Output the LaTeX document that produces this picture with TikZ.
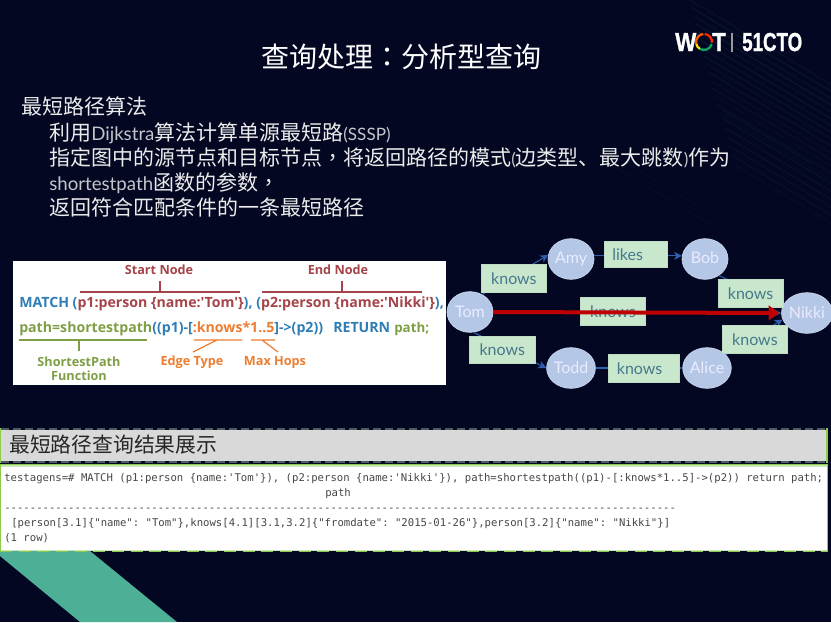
\documentclass[tikz,border=0pt]{standalone}
\usepackage{fontspec}
\usetikzlibrary{shapes.geometric,arrows.meta}
\setmainfont{Lato}
\newfontfamily\cjk{Noto Sans CJK SC}
\newfontfamily\cjkc{Noto Sans CJK TC}
\newfontfamily\lat{Lato}
\newfontfamily\opn{Open Sans}
\newfontfamily\mono{DejaVu Sans Mono}
\newfontfamily\logo[FakeBold=1.2]{Liberation Sans Bold}
\definecolor{bgnavy}{HTML}{030722}
\definecolor{streak}{HTML}{2F8F8A}
\definecolor{cblue}{HTML}{2E7DB5}
\definecolor{cred}{HTML}{A5444A}
\definecolor{cgreen}{HTML}{7F9F45}
\definecolor{corange}{HTML}{ED7D31}
\definecolor{panelgreen}{HTML}{8FCB4A}
\definecolor{paneldash}{HTML}{4A5C60}
\definecolor{palegreen}{HTML}{C8E6B8}
\definecolor{edgeblue}{HTML}{2F5FB0}
\definecolor{nodefill}{HTML}{B4C7E7}
\definecolor{relfill}{HTML}{C9E7CC}
\definecolor{reldraw}{HTML}{BEDCC3}
\definecolor{reltext}{HTML}{46788C}
\definecolor{tealband}{HTML}{4CAF96}
\definecolor{arrowred}{HTML}{C00000}
\definecolor{panelgray}{HTML}{D9D9D9}
\definecolor{latgray}{HTML}{C4C6CC}
\tikzset{
 x=0.75pt,y=-0.75pt,
 person/.style={ellipse,draw=white!75!edgeblue,line width=.5pt,fill=nodefill,minimum width=34.5pt,minimum height=30.5pt,inner sep=0pt,text=white!92!blue,font=\lat\fontsize{12}{14}\selectfont},
 rel/.style={draw=reldraw,line width=.4pt,fill=relfill,anchor=north west,inner sep=0pt,text=reltext,font=\lat\fontsize{12}{14}\selectfont},
 flow/.style={draw=edgeblue,line width=.8pt,-{Stealth[length=6pt,width=6pt]}},
 body/.style={anchor=base west,inner sep=0pt,text=white!92!black,font=\cjk\fontsize{15.75}{18}\selectfont},
 code/.style={anchor=base west,inner sep=0pt,font=\opn\bfseries\fontsize{10.6}{13}\selectfont},
 tag/.style={inner sep=0pt,align=center,font=\opn\bfseries\fontsize{9.5}{10.5}\selectfont},
 term/.style={anchor=base west,inner sep=0pt,text=black!72,font=\mono\fontsize{7.97}{10}\selectfont\frenchspacing},
 logotext/.style={anchor=base west,inner sep=0pt,text=white,font=\logo\fontsize{19.5}{20}\selectfont,transform shape},
 band/.style={streak,line width=.7pt},
}
\newcommand{\latw}[1]{{\lat\fontsize{14}{18}\selectfont\color{latgray}#1}}
\newcommand{\lats}[1]{{\lat\fontsize{12.8}{18}\selectfont\color{latgray}#1}}
\begin{document}
\begin{tikzpicture}
\useasboundingbox (0,0) rectangle (831,622);
\fill[bgnavy] (0,0) rectangle (831,622);
% faint streaks
\begin{scope}
\clip (0,0) rectangle (831,622);
\foreach \s/\o/\l in {0/.10/150,5/.13/170,10/.10/190,15/.14/210,20/.10/160,25/.12/200,30/.09/180,35/.12/220,40/.08/170,45/.10/200,50/.07/150,55/.09/190,60/.06/160,65/.08/180,70/.05/150}{
  \draw[band,opacity=\o] (690+\s*.4,\s*1.6) -- ++(\l,\l*.6);
}
\foreach \s/\o/\l in {0/.08/90,6/.10/120,12/.09/140,18/.10/150,24/.08/130,30/.09/110,36/.06/100}{
  \draw[band,opacity=\o] (722+\s*.3,110+\s*1.5) -- ++(\l,\l*.6);
}
\foreach \s/\o/\l in {0/.04/90,8/.05/120,16/.05/130,24/.04/110,32/.03/100}{
  \draw[band,opacity=\o] (590+\s*.2,130+\s*1.5) -- ++(\l,\l*.6);
}
\end{scope}
\fill[tealband] (0,556) -- (0,551) -- (90,551) -- (177,622) -- (80,622) -- cycle;

% title and text
\node[anchor=base,inner sep=0pt,text=white,font=\cjk\fontsize{21}{24}\selectfont] (title) at (401,67) {查询处理{\cjkc ：}分析型查询};
\node[body] (t0) at (21,114) {最短路径算法};
\node[body] (t1) at (49,140) {利用\latw{Dijkstra}算法计算单源最短路\lats{(SSSP)}};
\node[body] (t2) at (49,165) {指定图中的源节点和目标节点{\cjkc ，}将返回路径的模式\lats{(}边类型、最大跳数\lats{)}作为};
\node[body] (t3) at (49,190) {\latw{shortestpath}函数的参数{\cjkc ，}};
\node[body] (t4) at (49,215) {返回符合匹配条件的一条最短路径};

% logo
\node[logotext,xscale=.86] (lw) at (675,51) {W};
\draw[line width=1.7pt,orange!70!red] ([shift={(704,42)}] 195:6pt) arc (195:95:6pt);
\draw[line width=1.7pt,red!70!orange] ([shift={(704,42)}] 85:6pt) arc (85:-5:6pt);
\draw[line width=1.7pt,yellow!85!orange] ([shift={(704,42)}] 240:6pt) arc (240:195:6pt);
\draw[line width=1.7pt,teal!70!green] ([shift={(704,42)}] -15:6pt) arc (-15:-120:6pt);
\node[logotext,xscale=.86] (lt) at (712,51) {T};
\draw[white!60!black,line width=.8pt] (732,33) -- (732,52);
\node[logotext,xscale=.72] (lc) at (742,51) {51CTO};

% code card
\fill[white] (13,261) rectangle (446,385);
\node[tag,text=cred] (st) at (159,270) {Start Node};
\node[tag,text=cred] (en) at (338,270) {End Node};
\draw[cred,line width=.9pt] (80,292) -- (240,292) (160,281) -- (160,292);
\draw[cred,line width=.9pt] (262,292) -- (422,292) (342,281) -- (342,292);
\node[code,text=cblue] (m1) at (19,307) {MATCH (\textcolor{cred}{p1:person \{name:'Tom'\}}), (\textcolor{cred}{p2:person \{name:'Nikki'\}}),};
\node[code,text=cblue] (m2) at (19,332) {\textcolor{cgreen}{path=shortestpath}((p1)-[\textcolor{corange}{:knows*1..5}]->(p2))};
\node[code,text=cblue] (m3) at (333,332) {RETURN};
\node[code,text=cgreen,font=\opn\bfseries\fontsize{10}{13}\selectfont] (m4) at (394,332) {path;};
\draw[cgreen,line width=.9pt] (19,340) -- (147,340) (79,340) -- (79,351);
\draw[corange,line width=.9pt] (194,340) -- (242,340) (217,340) -- (193,352);
\draw[corange,line width=.9pt] (251,340) -- (275,340) (262,340) -- (278,352);
\node[tag,text=cgreen] (fn) at (79,369) {ShortestPath\\Function};
\node[tag,text=corange] (et) at (192,362) {Edge Type};
\node[tag,text=corange] (mh) at (275,362) {Max Hops};

% graph
\node[person] (tom) at (470,312) {Tom};
\node[person] (amy) at (571,259) {\raisebox{2pt}{Amy}};
\node[person] (bob) at (705,259) {\raisebox{2pt}{Bob}};
\node[person] (nikki) at (807,313) {Nikki};
\node[person] (todd) at (571,368) {Todd};
\node[person] (alice) at (707,368) {Alice};
\draw[flow] (tom.55) -- (amy.170);
\draw[flow] (amy.8) -- (bob.172);
\draw[flow] (bob.-50) -- (nikki.160);
\draw[flow] (tom.-80) -- (todd.west);
\draw[flow] (todd.east) -- (alice.west);
\draw[flow] (alice.35) -- (nikki.195);
\draw[flow] (tom.east) -- (nikki.west);
\node[rel,minimum width=49pt,minimum height=21pt] (k1) at (481,264) {knows};
\node[rel,minimum width=47pt,minimum height=19.5pt] (k2) at (604,241) {\hspace*{-12pt}likes};
\node[rel,minimum width=48.5pt,minimum height=21pt] (k3) at (718,279) {knows};
\node[rel,minimum width=49pt,minimum height=21pt] (k4) at (580,297) {knows};
\node[rel,minimum width=49pt,minimum height=21pt] (k5) at (722,325) {knows};
\node[rel,minimum width=53pt,minimum height=21pt] (k6) at (608,354) {\hspace*{-6pt}knows};
\node[rel,minimum width=49.5pt,minimum height=20pt] (k7) at (469,336) {knows};
\draw[arrowred,line width=3pt,shorten >=1.5pt,-{Triangle[length=8pt,width=11pt]}] (tom.east) -- (nikki.west);

% result panel
\fill[panelgray] (1,430) rectangle (826,461);
\fill[panelgreen] (826,428) rectangle (828,463);
\fill[panelgreen] (0,428) rectangle (1,463);
\draw[paneldash,line width=1.1pt,dash pattern=on 6pt off 3pt] (1,429) -- (828,429);
\draw[paneldash,line width=1.1pt,dash pattern=on 6pt off 3pt] (1,462) -- (828,462);
\node[anchor=base west,inner sep=0pt,text=black!85,font=\cjk\fontsize{15.6}{18}\selectfont] (head) at (9,452) {最短路径查询结果展示};
\fill[panelgreen] (0,464) rectangle (828,465);
\fill[palegreen] (0,465) rectangle (828,551);
\fill[panelgreen] (0,465) rectangle (1,551);
\fill[panelgreen] (826.5,465) rectangle (828,551);
\fill[white] (1,467) rectangle (826.5,549.5);
\draw[panelgreen,line width=.7pt,dash pattern=on 9pt off 5pt] (0,551.5) -- (828,551.5);
\node[term] (r1) at (4,481) {testagens=\# MATCH (p1:person \{name:'Tom'\}), (p2:person \{name:'Nikki'\}), path=shortestpath((p1)-[:knows*1..5]->(p2)) return path;};
\node[term] (r2) at (325,496) {path};
\node[term] (r3) at (4,511) {---------------------------------------------------------------------------------------------------------};
\node[term] (r4) at (11,526) {[person[3.1]\{"name": "Tom"\},knows[4.1][3.1,3.2]\{"fromdate": "2015-01-26"\},person[3.2]\{"name": "Nikki"\}]};
\node[term] (r5) at (4,541) {(1 row)};
\end{tikzpicture}
\end{document}
